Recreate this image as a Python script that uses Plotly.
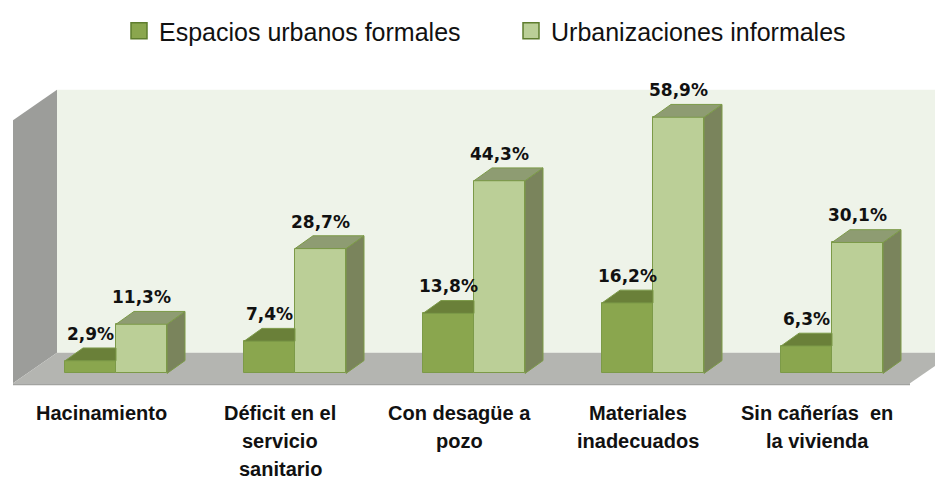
import plotly.graph_objects as go

# ---------------- data ----------------
category_lines = [
    ["Hacinamiento"],
    ["Déficit en el", "servicio", "sanitario"],
    ["Con desagüe a", "pozo"],
    ["Materiales", "inadecuados"],
    ["Sin cañerías  en", "la vivienda"],
]
series_names = ["Espacios urbanos formales", "Urbanizaciones informales"]
formales = [2.9, 7.4, 13.8, 16.2, 6.3]
informales = [11.3, 28.7, 44.3, 58.9, 30.1]

# ---------------- geometry (pixel based) ----------------
OFF = 8               # page body margin of the browser
KX = 179.0            # px per category unit
KY = 4.414            # px per percentage point
BAR_W = 51 / KX
PAIR_SHIFT = 15 / KX
DX = 18 / KX
DY = 13 / KY
LABEL_PAD = 4 / KY
WDX = 44 / KX
WDY = 31 / KY
FLOOR_FRONT = -10 / KY
WALL_LEFT = -88 / KX
FLOOR_RIGHT = 809 / KX
WALL_TOP_BACK = 288 / KY

X_RANGE = [(OFF - 101) / KX, 842 / KX]
Y_RANGE = [-27 / KY, 313 / KY]

DARK_FRONT = "#8AA64E"
DARK_TOP = "#6A8039"
LIGHT_FRONT = "#BBCF97"
LIGHT_TOP = "#8E9C72"
LIGHT_SIDE = "#7A845C"
EDGE = "#7C9A48"
LEG_EDGE = "#5E7D2E"

n = len(formales)
idx = list(range(n))

fig = go.Figure()

# front faces
dark_x = [i + PAIR_SHIFT - BAR_W / 2 for i in idx]
light_x = [i + PAIR_SHIFT + BAR_W / 2 for i in idx]
fig.add_trace(go.Bar(x=dark_x, y=formales, width=BAR_W, name=series_names[0], showlegend=False,
                     marker=dict(color=DARK_FRONT, line=dict(color=EDGE, width=1)),
                     hoverinfo="skip"))
fig.add_trace(go.Bar(x=light_x, y=informales, width=BAR_W, name=series_names[1], showlegend=False,
                     marker=dict(color=LIGHT_FRONT, line=dict(color=EDGE, width=1)),
                     hoverinfo="skip"))


def poly_trace(xs, ys, fill):
    return go.Scatter(x=xs, y=ys, mode="lines", fill="toself", fillcolor=fill,
                      line=dict(color=EDGE, width=1), showlegend=False, hoverinfo="skip")


# dark tops (visible part only)
xs, ys = [], []
for i, v in zip(idx, formales):
    xl = i + PAIR_SHIFT - BAR_W
    xr = i + PAIR_SHIFT
    xs += [xl, xr, xr, xl + DX, xl, None]
    ys += [v, v, v + DY, v + DY, v, None]
fig.add_trace(poly_trace(xs, ys, DARK_TOP))

# light sides
xs, ys = [], []
for i, v in zip(idx, informales):
    xr = i + PAIR_SHIFT + BAR_W
    xs += [xr, xr + DX, xr + DX, xr, xr, None]
    ys += [0, DY, v + DY, v, 0, None]
fig.add_trace(poly_trace(xs, ys, LIGHT_SIDE))

# light tops
xs, ys = [], []
for i, v in zip(idx, informales):
    xl = i + PAIR_SHIFT
    xr = i + PAIR_SHIFT + BAR_W
    xs += [xl, xr, xr + DX, xl + DX, xl, None]
    ys += [v, v, v + DY, v + DY, v, None]
fig.add_trace(poly_trace(xs, ys, LIGHT_TOP))


def fmt(v):
    return f"{v:.1f}".replace(".", ",") + "%"


# value labels
lab_font = dict(family="DejaVu Sans", size=17, color="#111111")
fig.add_trace(go.Scatter(x=dark_x, y=[v + DY + LABEL_PAD for v in formales], mode="text",
                         text=[f"<b>{fmt(v)}</b>" for v in formales],
                         textposition="top center", textfont=lab_font,
                         showlegend=False, hoverinfo="skip"))
fig.add_trace(go.Scatter(x=light_x, y=[v + DY + LABEL_PAD for v in informales], mode="text",
                         text=[f"<b>{fmt(v)}</b>" for v in informales],
                         textposition="top center", textfont=lab_font,
                         showlegend=False, hoverinfo="skip"))

# legend entries
for name, col in zip(series_names, [DARK_FRONT, LIGHT_FRONT]):
    fig.add_trace(go.Scatter(x=[None], y=[None], mode="markers", name=name,
                             marker=dict(symbol="square", size=16, color=col,
                                         line=dict(color=LEG_EDGE, width=1.5))))

# walls and floor
shapes = []
def path(pts):
    return "M " + " L ".join(f"{x},{y}" for x, y in pts) + " Z"

shapes.append(dict(type="path", xref="x", yref="y", layer="below", line=dict(width=0),
                   fillcolor="#EEF3E9",
                   path=path([(WALL_LEFT + WDX, FLOOR_FRONT + WDY), (X_RANGE[1] + 1, FLOOR_FRONT + WDY),
                              (X_RANGE[1] + 1, WALL_TOP_BACK), (WALL_LEFT + WDX, WALL_TOP_BACK)])))
shapes.append(dict(type="path", xref="x", yref="y", layer="below", line=dict(width=0),
                   fillcolor="#9C9D9A",
                   path=path([(WALL_LEFT, FLOOR_FRONT), (WALL_LEFT + WDX, FLOOR_FRONT + WDY),
                              (WALL_LEFT + WDX, WALL_TOP_BACK), (WALL_LEFT, WALL_TOP_BACK - WDY)])))
shapes.append(dict(type="path", xref="x", yref="y", layer="below", line=dict(width=0),
                   fillcolor="#B4B5B1",
                   path=path([(WALL_LEFT, FLOOR_FRONT), (FLOOR_RIGHT, FLOOR_FRONT),
                              (FLOOR_RIGHT + WDX, FLOOR_FRONT + WDY), (WALL_LEFT + WDX, FLOOR_FRONT + WDY)])))
shapes.append(dict(type="line", xref="x", yref="y", layer="below",
                   x0=WALL_LEFT, x1=FLOOR_RIGHT, y0=FLOOR_FRONT - 1 / KY, y1=FLOOR_FRONT - 1 / KY,
                   line=dict(color="#A2A3A0", width=2)))

# category labels
annotations = []
for i, lines in zip(idx, category_lines):
    for k, line in enumerate(lines):
        annotations.append(dict(x=i, y=0, xref="x", yref="paper", yshift=-(13 + 28 * k),
                                text=f"<b>{line}</b>", showarrow=False, xanchor="center",
                                yanchor="middle",
                                font=dict(family="Liberation Sans", size=20, color="#111111")))

fig.update_layout(
    width=943 - OFF, height=479 - OFF,
    margin=dict(l=0, r=0, t=60 - OFF, b=79),
    paper_bgcolor="white", plot_bgcolor="white",
    barmode="overlay", bargap=0,
    xaxis=dict(range=X_RANGE, visible=False, fixedrange=True),
    yaxis=dict(range=Y_RANGE, visible=False, fixedrange=True),
    shapes=shapes, annotations=annotations,
    showlegend=True,
    legend=dict(orientation="h", x=(119 - OFF) / (943 - OFF), xanchor="left",
                y=1 + 35 / 340, yanchor="middle",
                entrywidth=347, entrywidthmode="pixels",
                font=dict(family="Liberation Sans", size=25, color="#111111"),
                bgcolor="rgba(0,0,0,0)", itemclick=False, itemdoubleclick=False),
)

fig.write_html("out.html")
